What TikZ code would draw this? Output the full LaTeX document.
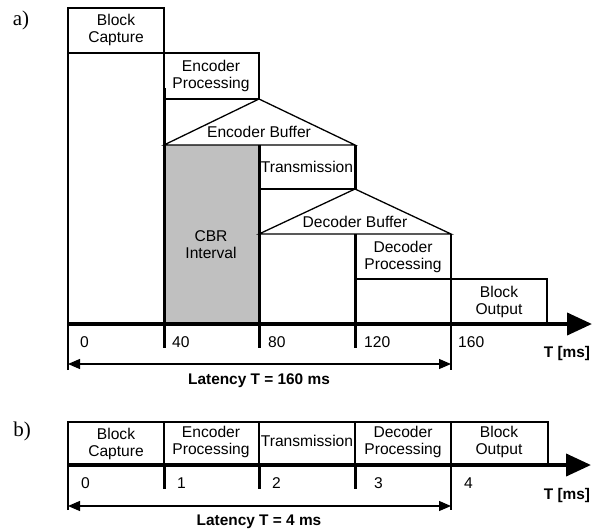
\documentclass[tikz,border=0pt]{standalone}
\usepackage{fontspec}
\setmainfont{Liberation Sans}
\newfontfamily\tagfont{Liberation Serif}
\usetikzlibrary{arrows.meta,positioning,calc}

\begin{document}
\begin{tikzpicture}[
  x=1pt,y=-1pt,
  font=\fontsize{15.6}{17}\selectfont,
  lbl/.style={align=center,inner sep=0pt},
  num/.style={anchor=west,inner sep=0pt},
  hdr/.style={font=\fontsize{15.4}{17}\selectfont\bfseries,inner sep=0pt},
  tag/.style={font=\fontsize{21}{22}\selectfont\tagfont,inner sep=0pt},
  frame/.style={line width=1.3pt},
  marker/.style={line width=3pt},
  axis/.style={line width=4pt,-{Triangle[length=25pt,width=22pt]}},
  span/.style={line width=1.2pt,{Triangle[length=12pt,width=10pt]}-{Triangle[length=12pt,width=10pt]}},
  cbr/.style={fill={rgb,255:red,192;green,192;blue,192}}
]
\useasboundingbox (0,0) rectangle (592,531);

% a)
\node[tag] (tagA) at (21,20) {a)};
\fill[cbr] (164,145) rectangle (259,324);
\draw[frame] (68,370) -- (68,8) -- (164,8) -- (164,53);
\draw[frame] (68,53) -- (259,53) -- (259,99) -- (164,99);
\draw[frame] (164,53) -- (164,88);
\draw[frame] (164,145) -- (259,99) -- (355,145) -- cycle;
\draw[frame] (355,145) -- (355,189) -- (259,189);
\draw[frame] (259,234) -- (355,189) -- (451,234) -- cycle;
\draw[frame] (451,234) -- (451,279) -- (355,279);
\draw[frame] (451,279) -- (547,279) -- (547,324);
\draw[frame] (451,234) -- (451,370);
\draw[marker] (164,88) -- (164,348);
\draw[marker] (259,145) -- (259,348);
\draw[marker] (355,145) -- (355,189);
\draw[marker] (355,234) -- (355,348);
\coordinate (axA0) at (68,324);
\coordinate (axA1) at (592,324);
\draw[axis] (axA0) -- (axA1);

\node[lbl] (capA) at (116,30) {Block\\Capture};
\node[lbl] (encA) at (211,76) {Encoder\\Processing};
\node[lbl] (ebufA) at (259,132) {Encoder Buffer};
\node[lbl] (trA) at (307,167) {Transmission};
\node[lbl] (cbrA) at (211,245) {CBR\\Interval};
\node[lbl] (dbufA) at (355,222) {Decoder Buffer};
\node[lbl] (decA) at (403,257) {Decoder\\Processing};
\node[lbl] (outA) at (499,302) {Block\\Output};

\node[num] (a0) at (80,342) {0};
\node[num] (a40) at (172,342) {40};
\node[num] (a80) at (268,342) {80};
\node[num] (a120) at (364,342) {120};
\node[num] (a160) at (458,342) {160};
\node[hdr] (unitA) at (567,354) {T [ms]};

\coordinate (latA0) at (68,364);
\coordinate (latA1) at (451,364);
\draw[span] (latA0) -- (latA1);
\node[hdr] (latA) at (259,381) {Latency T = 160 ms};

% b)
\node[tag] (tagB) at (22,431) {b)};
\draw[frame] (68,510) -- (68,422) -- (548,422) -- (548,465);
\foreach \x in {164,259,355} {
  \draw[frame] (\x,422) -- (\x,465);
  \draw[marker] (\x,465) -- (\x,489);
}
\draw[frame] (451,422) -- (451,510);
\coordinate (axB0) at (68,465);
\coordinate (axB1) at (591,465);
\draw[axis] (axB0) -- (axB1);

\node[lbl] (capB) at (116,444) {Block\\Capture};
\node[lbl] (encB) at (211,442) {Encoder\\Processing};
\node[lbl] (trB) at (307,441) {Transmission};
\node[lbl] (decB) at (403,442) {Decoder\\Processing};
\node[lbl] (outB) at (499,442) {Block\\Output};

\node[num] (b0) at (81,483) {0};
\node[num] (b1) at (177,483) {1};
\node[num] (b2) at (272,483) {2};
\node[num] (b3) at (374,483) {3};
\node[num] (b4) at (464,483) {4};
\node[hdr] (unitB) at (567,496) {T [ms]};

\coordinate (latB0) at (68,506);
\coordinate (latB1) at (451,506);
\draw[span] (latB0) -- (latB1);
\node[hdr] (latB) at (259,522) {Latency T = 4 ms};
\end{tikzpicture}
\end{document}
